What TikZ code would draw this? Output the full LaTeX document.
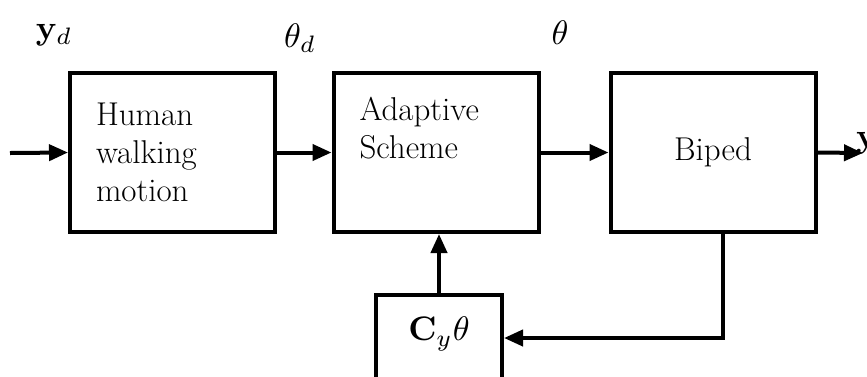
\documentclass[tikz,border=0pt]{standalone}
\usetikzlibrary{arrows.meta}
\newcommand{\mymath}[1]{\scalebox{3.4}{$#1$}}
\begin{document}
\begin{tikzpicture}[x=1pt,y=-1pt,
  blk/.style={draw,line width=4pt,inner sep=0pt,minimum height=159pt,minimum width=205pt,font=\fontsize{33}{38}\selectfont},
  lbl/.style={inner sep=0pt},
  conn/.style={line width=4pt,-{Triangle[length=19pt,width=16pt]}}]
\useasboundingbox (0,0) rectangle (867,376);
\node[blk,text width=153pt,align=left] (hum) at (172.5,152.5) {Human\\walking\\motion};
\node[blk,text width=153pt,align=left] (ada) at (436,152.5) {Adaptive\\Scheme\\\strut};
\node[blk,align=center] (bip) at (713,152.5) {Biped};
\node[draw,line width=4pt,inner sep=0pt,minimum width=126pt,minimum height=86pt] (cy) at (439,338) {};
\node[lbl] (cyt) at (439,334) {\mymath{\mathbf{C}_{y}\theta}};
\coordinate (in) at (10,153);
\coordinate (out) at (863,153);
\node[lbl,anchor=west] (yout) at (856,143) {\mymath{\mathbf{y}}};
\node[lbl] (yd) at (54,35) {\mymath{\mathbf{y}_{d}}};
\node[lbl] (thd) at (300,38) {\mymath{\theta_{d}}};
\node[lbl] (th) at (560,33) {\mymath{\theta}};
\draw[conn] (in) -- (hum.west);
\draw[conn] (hum.east) -- (ada.west);
\draw[conn] (ada.east) -- (bip.west);
\draw[conn] (bip.east) -- (out);
\draw[conn] ([xshift=10pt]bip.south) |- (cy.east);
\draw[conn] (cy.north) -- (cy.north |- ada.south);
\end{tikzpicture}
\end{document}
